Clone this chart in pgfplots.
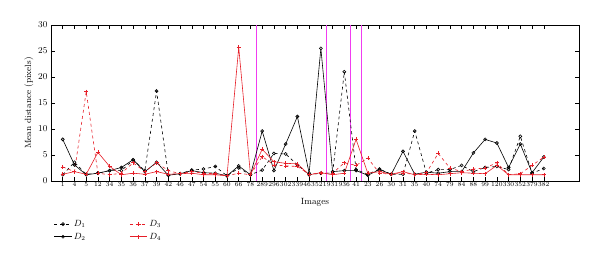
\documentclass[border=0pt]{standalone}
\usepackage{pgfplots}
\usepackage{pgfplotstable}
\pgfplotsset{compat=1.18}
\definecolor{myred}{RGB}{230,30,40}
\definecolor{mymag}{RGB}{240,60,240}
\pgfplotstableread{
x D1 D2 D3 D4
0 1.2 8.0 2.7 1.3
1 3.6 3.1 1.8 1.8
2 1.3 1.2 17.2 1.3
3 1.5 1.5 1.5 5.5
4 2.0 2.0 1.2 2.8
5 2.0 2.6 1.5 1.2
6 4.0 4.1 3.5 1.5
7 2.0 1.8 1.8 1.3
8 17.3 3.6 3.5 1.8
9 1.2 1.1 2.0 1.3
10 1.4 1.4 1.4 1.4
11 2.1 2.0 1.8 1.5
12 2.3 1.6 1.5 1.2
13 2.8 1.5 1.4 1.2
14 1.0 1.0 1.0 1.0
15 2.5 2.9 1.5 25.7
16 1.2 1.2 1.2 1.2
17 2.1 9.6 4.7 6.1
18 5.3 2.0 3.1 3.7
19 5.2 7.1 2.9 3.4
20 3.1 12.4 2.8 3.3
21 1.2 1.5 1.3 1.2
22 1.5 25.5 1.5 1.6
23 1.5 1.8 1.5 1.2
24 21.0 2.0 3.5 1.5
25 2.2 2.0 3.0 8.0
26 1.3 1.1 4.4 1.5
27 2.3 2.2 1.5 1.8
28 1.3 1.3 1.3 1.3
29 1.3 5.7 1.5 1.8
30 9.6 1.3 1.3 1.2
31 1.5 1.7 1.6 1.3
32 2.2 1.5 5.3 1.2
33 2.2 1.8 2.5 1.4
34 3.0 1.8 1.8 1.6
35 1.8 5.4 2.3 1.5
36 2.6 8.0 2.5 1.4
37 2.8 7.3 3.5 3.0
38 2.2 2.6 1.2 1.2
39 8.6 7.1 1.4 1.2
40 1.5 1.6 3.0 1.2
41 2.4 4.6 4.6 1.2
}\data
\begin{document}
\begin{tikzpicture}
\path[use as bounding box] (-51pt,-81pt) rectangle (549pt,181pt);
\begin{axis}[
  at={(0,0)}, anchor=south west,
  scale only axis, width=528pt, height=156pt,
  xmin=-1, xmax=44, ymin=0, ymax=30,
  xtick={0,...,41},
  xticklabels={1,4,5,12,34,35,36,37,39,42,46,47,54,55,60,66,78,289,296,302,339,463,521,931,936,41,23,26,30,31,35,40,74,79,84,88,99,120,330,352,379,382},
  x tick label style={font=\fontsize{6.2}{7}\selectfont, inner sep=1pt},
  ytick={0,5,...,30},
  y tick label style={font=\small},
  xlabel={Images}, ylabel={Mean distance (pixels)},
  xlabel style={font=\small, yshift=-7pt},
  ylabel style={font=\small, yshift=-2pt},
  tick style={black, line width=0.5pt},
  major tick length=4pt,
  axis line style={line width=0.6pt},
  legend columns=2,
  transpose legend,
  legend style={draw=none, fill=none, at={(0,-0.225)}, anchor=north west,
    font=\small, /tikz/every even column/.append style={column sep=42pt},
    row sep=1pt},
  legend cell align=left,
]
\addplot[mymag, line width=1pt, forget plot] coordinates {(16.5,0) (16.5,30)};
\addplot[mymag, line width=1pt, forget plot] coordinates {(22.5,0) (22.5,30)};
\addplot[mymag, line width=1pt, forget plot] coordinates {(24.5,0) (24.5,30)};
\addplot[mymag, line width=1pt, forget plot] coordinates {(25.5,0) (25.5,30)};
\addplot[black, dashed, line width=0.6pt, mark=o, mark size=1.5pt, mark options={solid}] table[x=x, y=D1] {\data};
\addlegendentry{$D_1$}
\addplot[black, line width=0.6pt, mark=o, mark size=1.5pt] table[x=x, y=D2] {\data};
\addlegendentry{$D_2$}
\addplot[myred, dashed, line width=0.6pt, mark=+, mark size=2pt, mark options={solid}] table[x=x, y=D3] {\data};
\addlegendentry{$D_3$}
\addplot[myred, line width=0.6pt, mark=+, mark size=2pt] table[x=x, y=D4] {\data};
\addlegendentry{$D_4$}
\end{axis}
\end{tikzpicture}
\end{document}
